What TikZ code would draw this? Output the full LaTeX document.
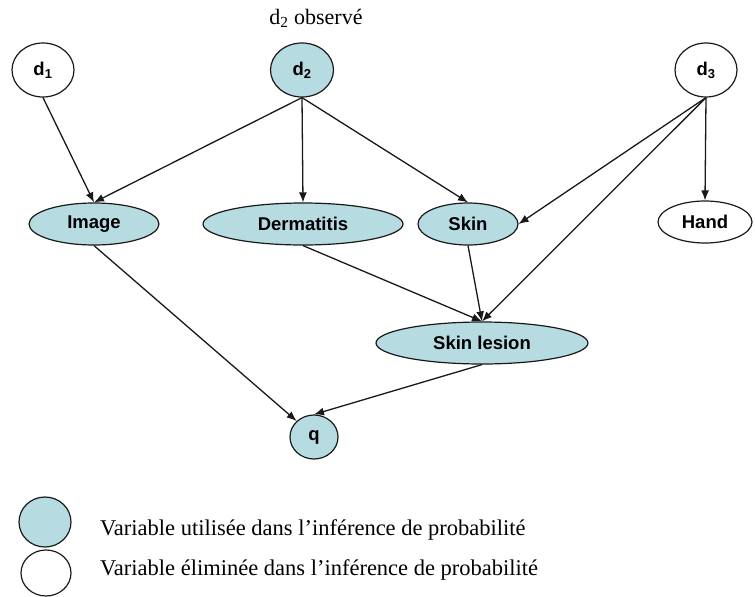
\documentclass[tikz,border=0pt]{standalone}
\usepackage{fontspec}
\setmainfont{Liberation Serif}
\setsansfont{Liberation Sans}
\usetikzlibrary{positioning}
\usetikzlibrary{calc}
\usetikzlibrary{shapes.geometric}
\usetikzlibrary{arrows.meta}
\definecolor{used blue}{RGB}{182,220,226}
\tikzset{
    % Filled triangular tips, about as big as the original ones
    >={Latex[length=10pt,width=8pt]},
%
    % Any variable of the network
    net var/.style={
        draw=black!90, line width=1.2pt, ellipse, inner sep=0pt,
        font=\sffamily\bfseries\fontsize{18.5}{20}\selectfont},
%
    % A variable kept for the inference
    used var/.style={net var, fill=used blue},
    % A variable that is eliminated
    eliminated var/.style={net var, fill=white},
%
    % Edges of the network
    influence/.style={->, line width=1.3pt, draw=black!90},
%
    % Serif captions and legend texts
    caption text/.style={inner sep=0pt,
        font=\rmfamily\fontsize{22}{26}\selectfont},
    legend text/.style={caption text, anchor=base west,
        font=\rmfamily\fontsize{22.5}{26}\selectfont}}

\begin{document}
\begin{tikzpicture}[x=1pt, y=-1pt]
\useasboundingbox (0,0) rectangle (755,597);

% Top row of causes
\node [eliminated var, minimum width=62pt, minimum height=54pt]
    (d1) at (43,70) {d\textsubscript{1}};
\node [used var, minimum width=63pt, minimum height=54pt]
    (d2) at (302,70) {d\textsubscript{2}};
\node [eliminated var, minimum width=62pt, minimum height=54pt]
    (d3) at (706,70) {d\textsubscript{3}};
\node [caption text] (observed) at (316,18) {d\textsubscript{2} observé};

% Middle row
\node [used var, minimum width=130pt, minimum height=42pt]
    (image) at (94,224) {Image};
\node [used var, minimum width=200pt, minimum height=42pt]
    (dermatitis) at (303,224) {Dermatitis};
\node [used var, minimum width=100pt, minimum height=42pt]
    (skin) at (468,224) {Skin};
\node [eliminated var, minimum width=94pt, minimum height=42pt]
    (hand) at (705,222) {Hand};

% Lower part
\node [used var, minimum width=212pt, minimum height=42pt]
    (lesion) at (482,343) {Skin lesion};
\node [used var, minimum width=48pt, minimum height=44pt]
    (q) at (314,437) {q};

% Influences
\draw [influence] (d1.south) -- (image.north);
\draw [influence] (d2.south) -- (image.north);
\draw [influence] (d2.south) -- (dermatitis.north);
\draw [influence] (d2.south) -- (skin.north);
\draw [influence] (d3.south) -- (skin.east);
\draw [influence] (d3.south) -- (lesion.north);
\draw [influence] (d3.south) -- (hand.north);
\draw [influence] (dermatitis.south) -- (lesion.north);
\draw [influence] (skin.south) -- (lesion.north);
\draw [influence] (image.south) -- (q.north west);
\draw [influence] (lesion.south) -- (q.north);

% Legend
\node [used var, minimum width=52pt, minimum height=50pt]
    (used key) at (45,522) {};
\node [eliminated var, minimum width=50pt, minimum height=46pt]
    (eliminated key) at (46,573) {};
\node [legend text] (used text) at (100,535)
    {Variable utilisée dans l’inférence de probabilité};
\node [legend text] (eliminated text) at (100,575)
    {Variable éliminée dans l’inférence de probabilité};

\end{tikzpicture}
\end{document}
